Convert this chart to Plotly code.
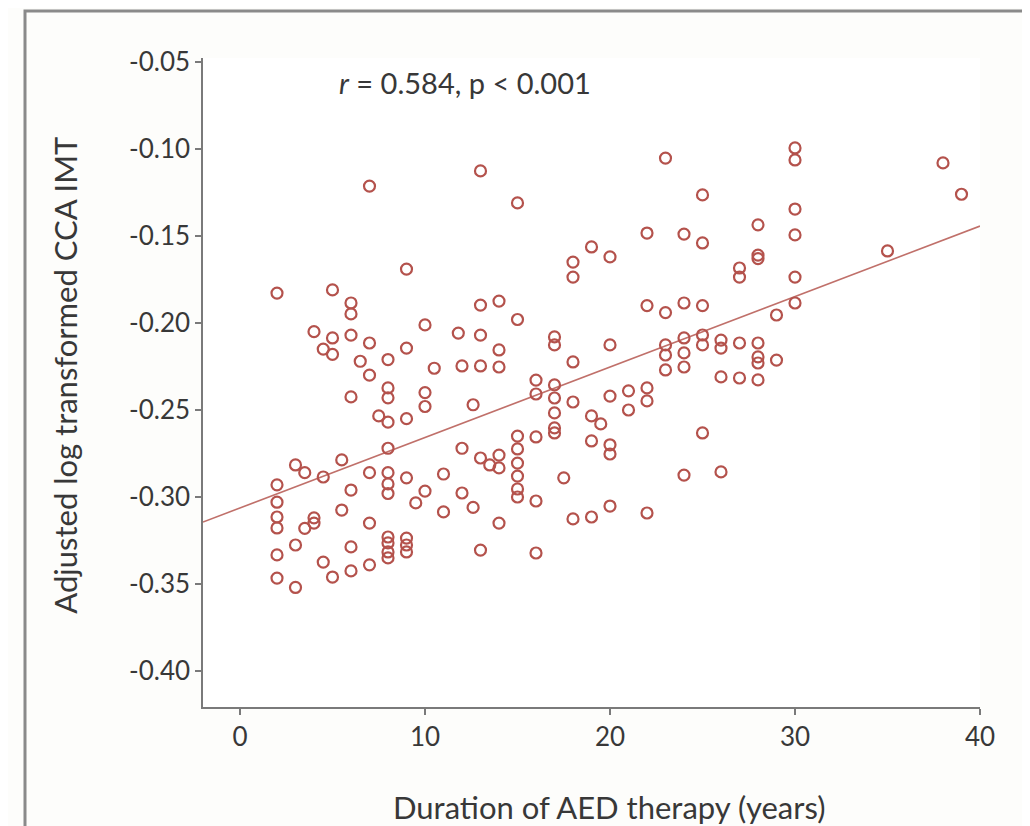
import plotly.graph_objects as go

# Duration of AED therapy (years) and adjusted log transformed CCA IMT
duration = [
    2, 2, 2, 2, 2, 2, 2,
    3, 3, 3, 3.5, 3.5,
    4, 4, 4,
    4.5, 4.5, 4.5,
    5, 5, 5, 5,
    5.5, 5.5,
    6, 6, 6, 6, 6, 6, 6,
    6.5,
    7, 7, 7, 7, 7, 7,
    7.5,
    8, 8, 8, 8, 8, 8, 8, 8, 8, 8, 8, 8,
    9, 9, 9, 9, 9, 9, 9,
    9.5,
    10, 10, 10, 10,
    10.5,
    11, 11,
    11.8, 12, 12, 12,
    12.6, 12.6,
    13, 13, 13, 13, 13, 13,
    13.5,
    14, 14, 14, 14, 14, 14,
    15, 15, 15, 15, 15, 15, 15, 15,
    16, 16, 16, 16, 16,
    17, 17, 17, 17, 17, 17, 17,
    17.5,
    18, 18, 18, 18, 18,
    19, 19, 19, 19,
    19.5,
    20, 20, 20, 20, 20, 20,
    21, 21,
    22, 22, 22, 22, 22,
    23, 23, 23, 23, 23,
    24, 24, 24, 24, 24, 24,
    25, 25, 25, 25, 25, 25,
    26, 26, 26, 26,
    27, 27, 27, 27,
    28, 28, 28, 28, 28, 28, 28,
    29, 29,
    30, 30, 30, 30, 30, 30,
    35, 38, 39,
]
imt = [
    -0.1828, -0.293, -0.303, -0.3115, -0.3178, -0.3333, -0.3466,
    -0.2816, -0.3276, -0.352, -0.286, -0.318,
    -0.205, -0.312, -0.315,
    -0.215, -0.2885, -0.3374,
    -0.181, -0.2086, -0.218, -0.346,
    -0.2787, -0.3075,
    -0.1885, -0.1948, -0.207, -0.2425, -0.296, -0.3287, -0.3425,
    -0.222,
    -0.1213, -0.2115, -0.23, -0.286, -0.315, -0.339,
    -0.2534,
    -0.221, -0.2373, -0.243, -0.257, -0.272, -0.286, -0.2925, -0.298, -0.323, -0.3264, -0.3316, -0.335,
    -0.169, -0.2144, -0.255, -0.289, -0.3236, -0.3276, -0.3316,
    -0.3034,
    -0.2011, -0.240, -0.248, -0.2966,
    -0.226,
    -0.2868, -0.3086,
    -0.2058, -0.2247, -0.272, -0.2977,
    -0.247, -0.306,
    -0.1126, -0.1897, -0.207, -0.2247, -0.2776, -0.3305,
    -0.2816,
    -0.1874, -0.2155, -0.2253, -0.2759, -0.2833, -0.315,
    -0.131, -0.198, -0.265, -0.2724, -0.2805, -0.288, -0.2954, -0.300,
    -0.2328, -0.2408, -0.2655, -0.3023, -0.3322,
    -0.208, -0.2126, -0.2356, -0.2431, -0.2517, -0.2603, -0.2632,
    -0.289,
    -0.165, -0.1736, -0.2224, -0.2454, -0.3126,
    -0.1563, -0.2534, -0.2678, -0.3115,
    -0.258,
    -0.162, -0.2126, -0.242, -0.270, -0.2753, -0.3052,
    -0.239, -0.250,
    -0.1483, -0.190, -0.2373, -0.2448, -0.3092,
    -0.1052, -0.194, -0.2126, -0.2184, -0.227,
    -0.1489, -0.1885, -0.2086, -0.2172, -0.2253, -0.2874,
    -0.1264, -0.154, -0.190, -0.2069, -0.2126, -0.2632,
    -0.2098, -0.2144, -0.231, -0.2856,
    -0.1684, -0.1736, -0.2115, -0.2316,
    -0.1436, -0.161, -0.163, -0.2115, -0.2195, -0.223, -0.2327,
    -0.1954, -0.2213,
    -0.0994, -0.1063, -0.1345, -0.1494, -0.1736, -0.1885,
    -0.1586, -0.108, -0.126,
]

# Fitted regression line
fit_x = [-2, 40]
fit_intercept = -0.3063
fit_slope = 0.00405
fit_y = [fit_intercept + fit_slope * v for v in fit_x]

x_ticks = [0, 10, 20, 30, 40]
y_ticks = [-0.40, -0.35, -0.30, -0.25, -0.20, -0.15, -0.10, -0.05]
y_tick_labels = ["-0.40", "-0.35", "-0.30", "-0.25", "-0.20", "-0.15", "-0.10", "-0.05"]

mark_color = "#b4524c"
text_color = "#383838"
axis_color = "#7a7a7a"
font_family = "Lato, 'Open Sans', sans-serif"

fig = go.Figure()
fig.add_trace(go.Scatter(
    x=fit_x, y=fit_y, mode="lines",
    line=dict(color="#c0706a", width=1.6),
    hoverinfo="skip", showlegend=False,
))
fig.add_trace(go.Scatter(
    x=duration, y=imt, mode="markers",
    marker=dict(symbol="circle-open", size=11, color=mark_color,
                line=dict(width=2.2, color=mark_color)),
    showlegend=False,
))

fig.update_xaxes(
    range=[-2, 40], tickvals=x_ticks, showline=True, linecolor=axis_color,
    linewidth=1.5, ticks="outside", ticklen=6, tickwidth=1.5, tickcolor=axis_color,
    showgrid=False, zeroline=False, tickfont=dict(size=26, color=text_color, family=font_family),
)
fig.update_yaxes(
    range=[-0.4207, -0.0477], tickvals=y_ticks, ticktext=y_tick_labels, showline=True,
    linecolor=axis_color, linewidth=1.5, ticks="outside", ticklen=6, tickwidth=1.5,
    tickcolor=axis_color, showgrid=False, zeroline=False,
    tickfont=dict(size=26, color=text_color, family=font_family),
)

fig.add_annotation(
    x=5.25, y=-0.062, xref="x", yref="y", xanchor="left", yanchor="middle",
    text="<i>r</i> = 0.584, p < 0.001", showarrow=False,
    font=dict(size=29, color=text_color, family=font_family),
)
fig.add_annotation(
    x=0.5225, y=-0.154, xref="paper", yref="paper", xanchor="center", yanchor="middle",
    text="Duration of AED therapy (years)", showarrow=False,
    font=dict(size=31, color=text_color, family=font_family),
)
fig.add_annotation(
    x=-0.178, y=0.5116, xref="paper", yref="paper", xanchor="center", yanchor="middle",
    text="Adjusted log transformed CCA IMT", textangle=-90, showarrow=False,
    font=dict(size=31, color=text_color, family=font_family),
)

# outer frame
fig.add_shape(
    type="rect", xref="paper", yref="paper",
    x0=(25 - 203) / 777, x1=(1026 - 203) / 777,
    y0=(707 - 840) / 649, y1=(707 - 11) / 649,
    line=dict(color="#8a8a8a", width=3), fillcolor="rgba(0,0,0,0)", layer="below",
)

# page body has an 8px margin, so the figure is sized to fit the window
fig.update_layout(
    width=1022, height=818,
    margin=dict(l=195, r=50, t=50, b=119),
    paper_bgcolor="#fdfdfb", plot_bgcolor="#ffffff",
    font=dict(family=font_family, color=text_color),
)

fig.write_html("out.html")
